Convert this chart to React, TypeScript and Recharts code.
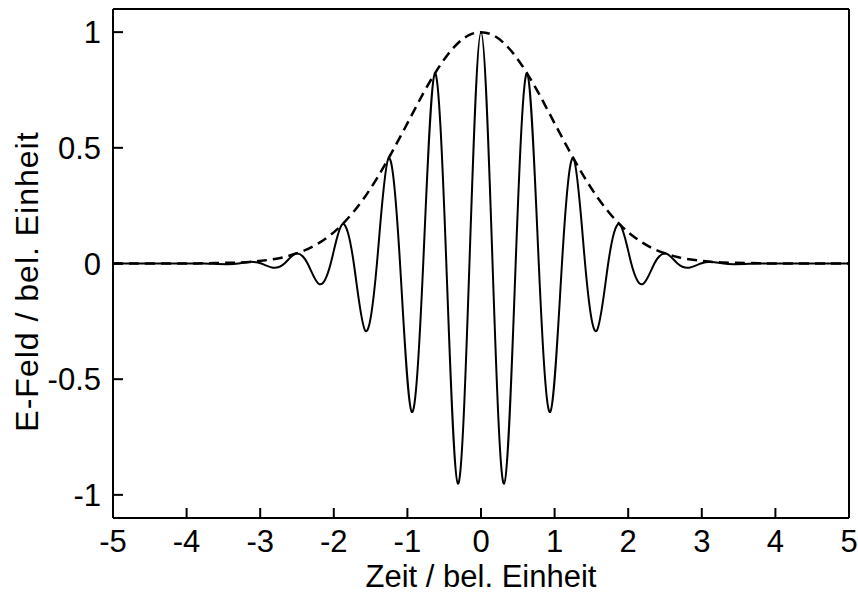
import React from 'react';
import { LineChart, Line, XAxis, YAxis, Label } from 'recharts';

// time axis samples (bel. Einheit)
const time = [
  -5, -4.5, -4, -3.77, -3.456, -3.299, -3.142, -2.985, -2.827, -2.67, -2.513, -2.356, -2.199, -2.042,
  -1.885, -1.728, -1.571, -1.414, -1.257, -1.1, -0.942, -0.785, -0.628, -0.471, -0.314, -0.157, 0,
  0.157, 0.314, 0.471, 0.628, 0.785, 0.942, 1.1, 1.257, 1.414, 1.571, 1.728, 1.885, 2.042, 2.199,
  2.356, 2.513, 2.67, 2.827, 2.985, 3.142, 3.299, 3.456, 3.77, 4, 4.5, 5,
];

// E-field (solid)
const field = [
  0, 0, 0, 0, -0.003, 0, 0.007, 0, -0.018, 0, 0.043, 0, -0.089, 0,
  0.169, 0, -0.291, 0, 0.454, 0, -0.641, 0, 0.821, 0, -0.952, 0, 1,
  0, -0.952, 0, 0.821, 0, -0.641, 0, 0.454, 0, -0.291, 0, 0.169, 0, -0.089,
  0, 0.043, 0, -0.018, 0, 0.007, 0, -0.003, 0, 0, 0, 0,
];

// envelope (dashed)
const envelope = [
  0, 0, 0, 0.001, 0.003, 0.004, 0.007, 0.012, 0.018, 0.028, 0.043, 0.062, 0.089, 0.124,
  0.169, 0.225, 0.291, 0.368, 0.454, 0.546, 0.641, 0.735, 0.821, 0.895, 0.952, 0.988, 1,
  0.988, 0.952, 0.895, 0.821, 0.735, 0.641, 0.546, 0.454, 0.368, 0.291, 0.225, 0.169, 0.124, 0.089,
  0.062, 0.043, 0.028, 0.018, 0.012, 0.007, 0.004, 0.003, 0.001, 0, 0, 0,
];

const xTicks = [-5, -4, -3, -2, -1, 0, 1, 2, 3, 4, 5];
const yTicks = [-1, -0.5, 0, 0.5, 1];
const yTickLabels = ['-1', '-0.5', '0', '0.5', '1'];

const data = time.map((t, i) => ({ t, e: field[i], env: envelope[i] }));

const FONT = '"Liberation Sans", Arial, Helvetica, sans-serif';
const FS = 31;
const tickStyle = { fill: '#000', fontSize: FS, fontFamily: FONT };
const lineStyle = { stroke: '#000', strokeWidth: 2 };

const fmtY = (v: number) => {
  const i = yTicks.indexOf(v);
  return i >= 0 ? yTickLabels[i] : String(v);
};

const YLabel = (props: any) => {
  const vb = props.viewBox || {};
  const cy = (vb.y || 0) + (vb.height || 0) / 2 + 18;
  const x = 38;
  return (
    <text
      x={x}
      y={cy}
      transform={`rotate(-90 ${x} ${cy})`}
      textAnchor="middle"
      fill="#000"
      fontSize={32}
      letterSpacing={1}
      fontFamily={FONT}
    >
      E-Feld / bel. Einheit
    </text>
  );
};

const XLabel = (props: any) => {
  const vb = props.viewBox || {};
  const cx = (vb.x || 0) + (vb.width || 0) / 2;
  return (
    <text x={cx} y={587} textAnchor="middle" fill="#000" fontSize={FS} fontFamily={FONT}>
      Zeit / bel. Einheit
    </text>
  );
};

export default function App() {
  return (
    <div style={{ position: 'absolute', left: 0, top: 0, background: '#fff' }}>
      <LineChart width={858} height={593} data={data} margin={{ top: 0, right: 0, bottom: 0, left: 0 }}>
        <XAxis
          xAxisId="b"
          dataKey="t"
          type="number"
          domain={[-5, 5]}
          ticks={xTicks}
          interval={0}
          allowDataOverflow
          orientation="bottom"
          height={75}
          tickSize={-10}
          tickMargin={22}
          tick={tickStyle}
          axisLine={lineStyle}
          tickLine={lineStyle}
        >
          <Label content={<XLabel />} />
        </XAxis>
        <XAxis
          xAxisId="top"
          dataKey="t"
          type="number"
          domain={[-5, 5]}
          ticks={xTicks}
          interval={0}
          allowDataOverflow
          orientation="top"
          height={9}
          tickSize={-10}
          tick={false}
          axisLine={lineStyle}
          tickLine={lineStyle}
        />
        <YAxis
          yAxisId="l"
          type="number"
          domain={[-1.1, 1.1]}
          ticks={yTicks}
          interval={0}
          allowDataOverflow
          orientation="left"
          width={113}
          tickSize={-10}
          tickMargin={22}
          tickFormatter={fmtY}
          tick={tickStyle}
          axisLine={lineStyle}
          tickLine={lineStyle}
        >
          <Label content={<YLabel />} />
        </YAxis>
        <YAxis
          yAxisId="r"
          type="number"
          domain={[-1.1, 1.1]}
          ticks={yTicks}
          interval={0}
          allowDataOverflow
          orientation="right"
          width={9}
          tickSize={-10}
          tick={false}
          axisLine={lineStyle}
          tickLine={lineStyle}
        />
        <Line
          xAxisId="b"
          yAxisId="l"
          type="natural"
          dataKey="env"
          stroke="#000"
          strokeWidth={2.5}
          strokeDasharray="10 6"
          dot={false}
          activeDot={false}
          isAnimationActive={false}
        />
        <Line
          xAxisId="b"
          yAxisId="l"
          type="natural"
          dataKey="e"
          stroke="#000"
          strokeWidth={2}
          dot={false}
          activeDot={false}
          isAnimationActive={false}
        />
      </LineChart>
    </div>
  );
}
